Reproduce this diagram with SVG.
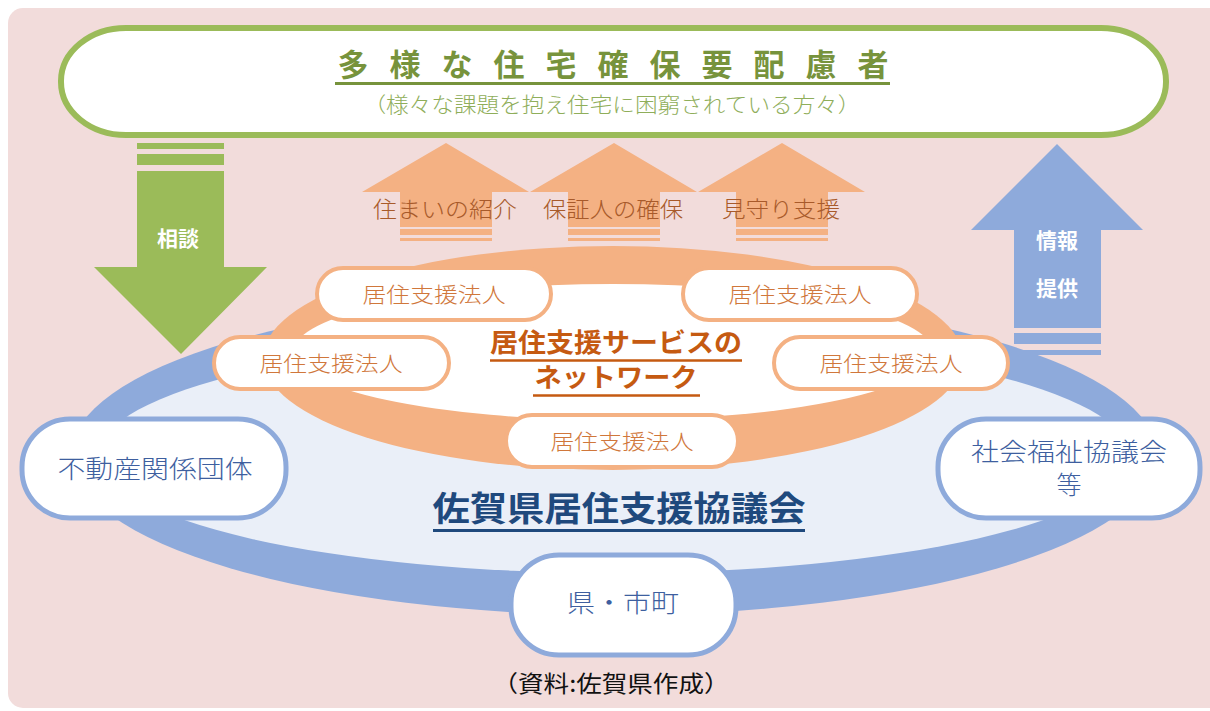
<svg xmlns="http://www.w3.org/2000/svg" width="1210" height="711" viewBox="0 0 1210 711">
<style>
.jp{font-family:"Noto Sans CJK JP","Noto Sans",sans-serif;}
.lt{font-weight:300;}
.on{fill:#fff;stroke:#f4b183;stroke-width:4;}
.ot{fill:#d0773b;font-size:21px;text-anchor:middle;}
.bn{fill:#fff;stroke:#8eaadb;stroke-width:5;}
.bt{fill:#3e5f9f;font-size:25px;text-anchor:middle;}
.oa{fill:#f4b183;}
.at{fill:#a85a2a;font-size:22px;text-anchor:middle;}
.wt{fill:#fff;font-size:21px;font-weight:bold;text-anchor:middle;}
</style>
<rect width="1210" height="711" fill="#fff"/>
<rect x="8" y="8" width="1222" height="700" rx="15" fill="#f2dcdb"/>

<g id="council-ring">
<ellipse cx="614" cy="455" rx="543" ry="160" fill="#8eaadb"/>
<ellipse cx="614" cy="455" rx="515" ry="118" fill="#eaeff8"/>
</g>
<g id="network-ring">
<ellipse cx="613" cy="358" rx="350" ry="112" fill="#f4b183"/>
<ellipse cx="613" cy="352" rx="320" ry="68" fill="#fff"/>
</g>

<g id="top-node">
<rect x="61" y="28" width="1105" height="107" rx="65" ry="53" fill="#fff" stroke="#9bbb59" stroke-width="6"/>
<text class="jp" x="613" y="76" fill="#77933c" font-size="31" font-weight="bold" text-anchor="middle" textLength="551" lengthAdjust="spacing">多様な住宅確保要配慮者</text>
<line x1="335" y1="83.5" x2="890" y2="83.5" stroke="#77933c" stroke-width="3"/>
<text class="jp lt" x="612" y="112" fill="#8fae5a" font-size="21" text-anchor="middle" textLength="497" lengthAdjust="spacingAndGlyphs">（様々な課題を抱え住宅に困窮されている方々）</text>
</g>

<g id="connectors">
<g id="arrow-soudan">
<rect x="137" y="143" width="87" height="6" fill="#9bbb59"/>
<rect x="137" y="154" width="87" height="11" fill="#9bbb59"/>
<polygon points="137,171 224,171 224,267 267,267 181,354 94,267 137,267" fill="#9bbb59"/>
<text class="jp wt" x="178" y="246">相談</text>
</g>
<g id="arrow-info">
<rect x="1014" y="333" width="87" height="11" fill="#8eaadb"/>
<rect x="1014" y="350" width="87" height="5" fill="#8eaadb"/>
<polygon points="1014,328 1014,230 971,230 1057,144 1143,230 1101,230 1101,328" fill="#8eaadb"/>
<text class="jp wt" x="1057" y="248">情報</text>
<text class="jp wt" x="1057" y="296">提供</text>
</g>
<g id="arrow-1">
<polygon class="oa" points="400,227 400,192 362,192 446,143 529,192 492,192 492,227"/>
<rect class="oa" x="400" y="229" width="92" height="6"/>
<rect class="oa" x="400" y="238" width="92" height="3"/>
<text class="jp lt at" x="445" y="217" textLength="144" lengthAdjust="spacingAndGlyphs">住まいの紹介</text>
</g>
<g id="arrow-2">
<polygon class="oa" points="568,227 568,192 530,192 614,143 697,192 660,192 660,227"/>
<rect class="oa" x="568" y="229" width="92" height="6"/>
<rect class="oa" x="568" y="238" width="92" height="3"/>
<text class="jp lt at" x="613" y="217" textLength="140" lengthAdjust="spacingAndGlyphs">保証人の確保</text>
</g>
<g id="arrow-3">
<polygon class="oa" points="736,227 736,192 698,192 782,143 865,192 828,192 828,227"/>
<rect class="oa" x="736" y="229" width="92" height="6"/>
<rect class="oa" x="736" y="238" width="92" height="3"/>
<text class="jp lt at" x="781" y="217" textLength="118" lengthAdjust="spacingAndGlyphs">見守り支援</text>
</g>
</g>

<g id="network-label">
<text class="jp" x="616" y="352" fill="#c55a11" font-size="26" font-weight="bold" text-anchor="middle" textLength="252" lengthAdjust="spacingAndGlyphs">居住支援サービスの</text>
<line x1="490" y1="360.5" x2="742" y2="360.5" stroke="#c55a11" stroke-width="2.5"/>
<text class="jp" x="616" y="387" fill="#c55a11" font-size="26" font-weight="bold" text-anchor="middle" textLength="163" lengthAdjust="spacingAndGlyphs">ネットワーク</text>
<line x1="533" y1="395.5" x2="700" y2="395.5" stroke="#c55a11" stroke-width="2.5"/>
</g>

<g id="corp-1"><rect class="on" x="317" y="268" width="234" height="52" rx="26"/><text class="jp lt ot" x="434" y="302" textLength="143" lengthAdjust="spacingAndGlyphs">居住支援法人</text></g>
<g id="corp-2"><rect class="on" x="683" y="268" width="234" height="52" rx="26"/><text class="jp lt ot" x="800" y="302" textLength="143" lengthAdjust="spacingAndGlyphs">居住支援法人</text></g>
<g id="corp-3"><rect class="on" x="214" y="337" width="235" height="52" rx="26"/><text class="jp lt ot" x="331" y="371" textLength="143" lengthAdjust="spacingAndGlyphs">居住支援法人</text></g>
<g id="corp-4"><rect class="on" x="774" y="337" width="234" height="52" rx="26"/><text class="jp lt ot" x="891" y="371" textLength="143" lengthAdjust="spacingAndGlyphs">居住支援法人</text></g>
<g id="corp-5"><rect class="on" x="506" y="415" width="232" height="52" rx="26"/><text class="jp lt ot" x="622" y="449" textLength="143" lengthAdjust="spacingAndGlyphs">居住支援法人</text></g>

<g id="council-label">
<text class="jp" x="619" y="521" fill="#1f497d" font-size="34" font-weight="bold" text-anchor="middle" textLength="373" lengthAdjust="spacingAndGlyphs">佐賀県居住支援協議会</text>
<line x1="433" y1="530.5" x2="805" y2="530.5" stroke="#1f497d" stroke-width="3"/>
</g>

<g id="realestate"><rect class="bn" x="22" y="419" width="264" height="99" rx="48"/><text class="jp lt bt" x="155" y="478" textLength="195" lengthAdjust="spacingAndGlyphs">不動産関係団体</text></g>
<g id="welfare"><rect class="bn" x="938" y="419" width="262" height="99" rx="48"/><text class="jp lt bt" x="1069" y="461" textLength="196" lengthAdjust="spacingAndGlyphs">社会福祉協議会</text><text class="jp lt bt" x="1069" y="494">等</text></g>
<g id="pref"><rect class="bn" x="511" y="555" width="225" height="100" rx="48"/><text class="jp lt bt" x="623" y="612" textLength="112" lengthAdjust="spacingAndGlyphs">県・市町</text></g>

<text class="jp" x="611" y="692" fill="#111" font-size="23" text-anchor="middle" textLength="237" lengthAdjust="spacingAndGlyphs">（資料:佐賀県作成）</text>
</svg>
